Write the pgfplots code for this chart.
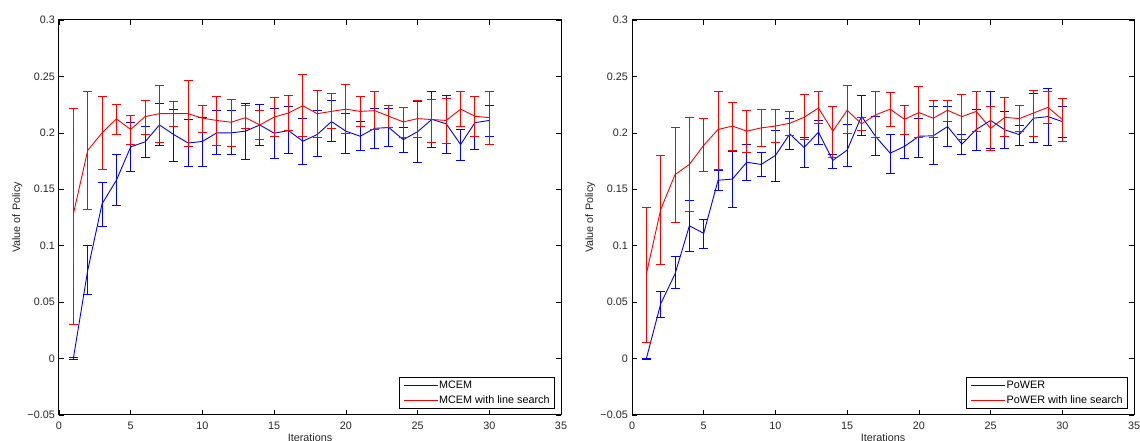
\documentclass[border=0pt]{standalone}
\usepackage{fontspec}
\setmainfont{Liberation Sans}
\usepackage{pgfplots}
\usepackage{pgfplotstable}
\pgfplotsset{compat=1.18}

\pgfplotstableread{
x y hi lo
1 0 0.0008 -0.0008
2 0.078 0.1006 0.0565
3 0.137 0.156 0.117
4 0.158 0.181 0.136
5 0.1876 0.209 0.1656
6 0.192 0.2056 0.178
7 0.207 0.226 0.1885
8 0.1985 0.221 0.175
9 0.191 0.212 0.170
10 0.1924 0.214 0.1706
11 0.200 0.2197 0.181
12 0.200 0.2197 0.1806
13 0.2015 0.226 0.176
14 0.207 0.225 0.189
15 0.1997 0.222 0.1776
16 0.202 0.223 0.1815
17 0.1926 0.2126 0.1724
18 0.1985 0.2197 0.179
19 0.210 0.2285 0.192
20 0.2015 0.2176 0.182
21 0.197 0.210 0.184
22 0.204 0.222 0.186
23 0.2047 0.222 0.188
24 0.194 0.2044 0.183
25 0.201 0.228 0.174
26 0.212 0.2365 0.1874
27 0.208 0.233 0.182
28 0.1897 0.203 0.1756
29 0.209 0.232 0.185
30 0.211 0.2244 0.1968
}\mcemA

\pgfplotstableread{
x y hi lo
1 0.128 0.222 0.0303
2 0.1844 0.2365 0.132
3 0.200 0.232 0.168
4 0.2124 0.2256 0.199
5 0.203 0.2156 0.1897
6 0.2144 0.229 0.199
7 0.217 0.2424 0.1915
8 0.217 0.228 0.2053
9 0.217 0.246 0.188
10 0.213 0.2247 0.2006
11 0.211 0.232 0.189
12 0.2094 0.230 0.188
13 0.2135 0.224 0.2035
14 0.207 0.220 0.194
15 0.214 0.2315 0.1965
16 0.2176 0.2335 0.202
17 0.224 0.2515 0.1965
18 0.217 0.238 0.196
19 0.219 0.235 0.2035
20 0.221 0.243 0.1994
21 0.219 0.232 0.2056
22 0.2197 0.2368 0.203
23 0.2147 0.2247 0.2044
24 0.2097 0.2226 0.1956
25 0.2126 0.229 0.1956
26 0.2118 0.230 0.1918
27 0.211 0.2303 0.191
28 0.221 0.2368 0.2056
29 0.2147 0.232 0.197
30 0.2135 0.237 0.1897
}\mcemB

\pgfplotstableread{
x y hi lo
1 0 0.0005 -0.0005
2 0.0485 0.0597 0.0365
3 0.075 0.0906 0.062
4 0.1176 0.140 0.0953
5 0.111 0.123 0.098
6 0.158 0.1665 0.149
7 0.159 0.1835 0.134
8 0.174 0.1897 0.158
9 0.172 0.183 0.161
10 0.180 0.2024 0.157
11 0.199 0.213 0.1856
12 0.187 0.1956 0.169
13 0.2006 0.211 0.190
14 0.1756 0.181 0.1685
15 0.1847 0.2074 0.170
16 0.2147 0.2335 0.1976
17 0.1965 0.2147 0.1797
18 0.182 0.1985 0.164
19 0.188 0.1985 0.177
20 0.197 0.213 0.178
21 0.1974 0.223 0.172
22 0.2056 0.223 0.188
23 0.190 0.1985 0.1806
24 0.203 0.2206 0.1847
25 0.211 0.2365 0.186
26 0.2026 0.219 0.1865
27 0.1985 0.207 0.1885
28 0.213 0.2347 0.1915
29 0.2144 0.2397 0.189
30 0.210 0.223 0.196
}\powerA

\pgfplotstableread{
x y hi lo
1 0.075 0.134 0.0144
2 0.132 0.180 0.0835
3 0.163 0.205 0.121
4 0.172 0.214 0.130
5 0.189 0.2126 0.1656
6 0.203 0.237 0.168
7 0.206 0.2268 0.1847
8 0.2015 0.2197 0.1824
9 0.2044 0.221 0.1876
10 0.206 0.2206 0.1918
11 0.2085 0.2194 0.198
12 0.2138 0.2344 0.1938
13 0.222 0.2365 0.208
14 0.2015 0.223 0.178
15 0.220 0.2418 0.1994
16 0.208 0.214 0.202
17 0.216 0.2368 0.196
18 0.221 0.236 0.206
19 0.212 0.2244 0.199
20 0.218 0.241 0.1956
21 0.213 0.229 0.196
22 0.220 0.229 0.210
23 0.2144 0.2344 0.1938
24 0.219 0.2368 0.201
25 0.204 0.223 0.184
26 0.2138 0.231 0.197
27 0.2126 0.224 0.201
28 0.2176 0.238 0.197
29 0.2226 0.237 0.208
30 0.2118 0.2303 0.1926
}\powerB

\definecolor{mblue}{RGB}{0,0,255}
\definecolor{mred}{RGB}{255,0,0}

\pgfplotsset{
  mstyle/.style={
    scale only axis, width=502pt, height=395pt,
    xmin=0, xmax=35, ymin=-0.05, ymax=0.3,
    xtick={0,5,10,15,20,25,30,35},
    xticklabels={0,5,10,15,20,25,30,35},
    ytick={-0.05,0,0.05,0.1,0.15,0.2,0.25,0.3},
    yticklabels={−0.05,0,0.05,0.1,0.15,0.2,0.25,0.3},
    /pgf/number format/assume math mode=true,
    tick align=inside, major tick length=5pt,
    tick style={black, line width=0.7pt},
    axis line style={black, line width=1pt},
    font=\fontsize{10.8pt}{13pt}\selectfont,
    ticklabel style={font=\fontsize{10.8pt}{13pt}\selectfont, text=black!85},
    xticklabel style={inner sep=0pt, anchor=north, yshift=-6.5pt},
    yticklabel style={inner sep=0pt, anchor=east, xshift=-4pt},
    xlabel={Iterations},
    ylabel={Value of Policy},
    xlabel style={at={(axis description cs:0.5,0)}, anchor=north, inner sep=0pt, yshift=-18pt, text=black!85},
    ylabel style={at={([xshift=-36.5pt]axis description cs:0,0.5)}, anchor=south, inner sep=0pt, text=black!85},
    legend cell align=left,
    legend image code/.code={\draw[#1, line width=0.9pt] (0pt,0pt) -- (34pt,0pt);},
    legend style={at={([xshift=-6pt,yshift=6pt]axis description cs:1,0)}, anchor=south east,
      draw=black, line width=0.9pt, inner xsep=4pt, inner ysep=1.2pt,
      font=\fontsize{10.8pt}{13pt}\selectfont,
      nodes={inner sep=1pt, text height=9pt, text depth=3.3pt},
      /tikz/every even column/.append style={column sep=2pt}},
  },
}

\begin{document}
\begin{tikzpicture}
\begin{axis}[mstyle, at={(59pt,26pt)}, anchor=south west]
\addlegendimage{draw=mblue}
\addlegendentry{MCEM}
\addlegendimage{draw=mred}
\addlegendentry{MCEM with line search}
\addplot[forget plot, color=mblue, line width=0.9pt, error bars/.cd, y dir=both, y explicit, error mark=|, error mark options={color=mblue, mark size=4.5pt, line width=0.9pt}, error bar style={color=mblue, line width=0.9pt}] table[x=x, y=y, y error plus expr=\thisrow{hi}-\thisrow{y}, y error minus expr=\thisrow{y}-\thisrow{lo}] {\mcemA};
\addplot[forget plot, color=mred, line width=0.9pt, error bars/.cd, y dir=both, y explicit, error mark=|, error mark options={color=mred, mark size=4.5pt, line width=0.9pt}, error bar style={color=mred, line width=0.9pt}] table[x=x, y=y, y error plus expr=\thisrow{hi}-\thisrow{y}, y error minus expr=\thisrow{y}-\thisrow{lo}] {\mcemB};
\end{axis}
\begin{axis}[mstyle, at={(632pt,26pt)}, anchor=south west]
\addlegendimage{draw=mblue}
\addlegendentry{PoWER}
\addlegendimage{draw=mred}
\addlegendentry{PoWER with line search}
\addplot[forget plot, color=mblue, line width=0.9pt, error bars/.cd, y dir=both, y explicit, error mark=|, error mark options={color=mblue, mark size=4.5pt, line width=0.9pt}, error bar style={color=mblue, line width=0.9pt}] table[x=x, y=y, y error plus expr=\thisrow{hi}-\thisrow{y}, y error minus expr=\thisrow{y}-\thisrow{lo}] {\powerA};
\addplot[forget plot, color=mred, line width=0.9pt, error bars/.cd, y dir=both, y explicit, error mark=|, error mark options={color=mred, mark size=4.5pt, line width=0.9pt}, error bar style={color=mred, line width=0.9pt}] table[x=x, y=y, y error plus expr=\thisrow{hi}-\thisrow{y}, y error minus expr=\thisrow{y}-\thisrow{lo}] {\powerB};
\end{axis}
\pgfresetboundingbox
\path (0pt,0pt) rectangle (1140pt,441pt);
\end{tikzpicture}
\end{document}
